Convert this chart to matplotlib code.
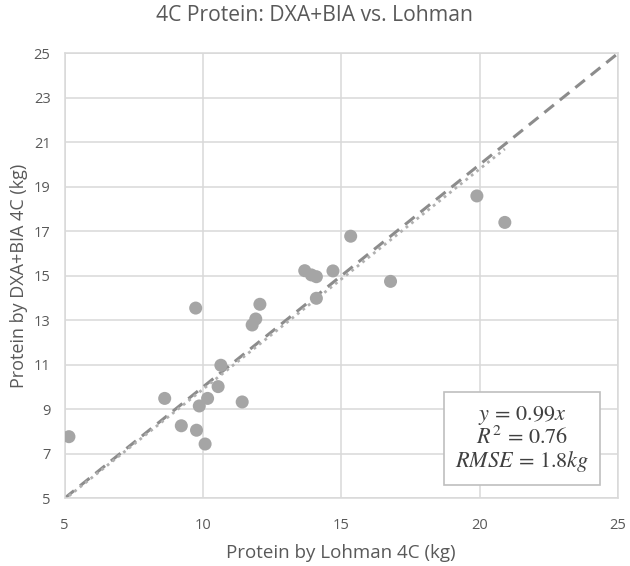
import numpy as np
import matplotlib.pyplot as plt

# Datos (kg)
lohman = [5.16, 9.74, 12.06, 11.91, 11.78, 14.10, 10.65, 10.55, 8.62, 10.17, 9.87, 11.42,
          9.22, 9.77, 10.08, 19.90, 20.91, 15.34, 16.78, 13.68, 13.92, 14.10, 14.70]
dxa_bia = [7.77, 13.55, 13.72, 13.06, 12.79, 13.99, 10.98, 10.02, 9.49, 9.49, 9.15, 9.33,
           8.26, 8.06, 7.44, 18.59, 17.40, 16.78, 14.75, 15.23, 15.04, 14.96, 15.22]
pendiente = 0.99
x_ticks = [5, 10, 15, 20, 25]
y_ticks = [5, 7, 9, 11, 13, 15, 17, 19, 21, 23, 25]

plt.rcParams['font.family'] = ['Open Sans', 'DejaVu Sans']
plt.rcParams['mathtext.fontset'] = 'stix'

texto = '#595959'
fig = plt.figure(figsize=(6.3, 5.66), dpi=100)
ax = fig.add_axes([0.1024, 0.1196, 0.8786, 0.7862])

# linea identidad y = x
ax.plot([5, 25], [5, 25], color='#8c8c8c', lw=2.2, ls=(0, (4, 2.5)), zorder=2)
# linea de tendencia y = 0.99x en el rango de los datos
xt = np.array([min(lohman), max(lohman)])
ax.plot(xt, pendiente * xt, color='#b0b0b0', lw=2.0, ls=(0, (1, 1.5)), zorder=2)

ax.scatter(lohman, dxa_bia, s=88, color='#a5a5a5', edgecolors='none', zorder=3)

ax.set_xlim(5, 25)
ax.set_ylim(5, 25)
ax.set_xticks(x_ticks)
ax.set_yticks(y_ticks)
ax.grid(True, color='#d9d9d9', lw=1.1, zorder=0)
for s in ax.spines.values():
    s.set_color('#d9d9d9')
    s.set_linewidth(1.1)
ax.tick_params(axis='x', length=0, colors=texto, labelsize=10.5, pad=14)
ax.tick_params(axis='y', length=0, colors=texto, labelsize=10.5, pad=10)

ax.set_xlabel('Protein by Lohman 4C (kg)', color=texto, fontsize=13.5, labelpad=8)
ax.set_ylabel('Protein by DXA+BIA 4C (kg)', color=texto, fontsize=13, labelpad=4)
fig.text(0.5, 0.972, '4C Protein: DXA+BIA vs. Lohman', color=texto, fontsize=15.2,
         ha='center', va='center')

ecuacion = r'$y\,=\,0.99x$' + '\n' + r'$R^2\,=\,0.76$' + '\n' + r'$RMSE\,=\,1.8kg$'
ax.text(0.8266, 0.134, ecuacion, transform=ax.transAxes,
        ha='center', va='center', fontsize=16, color='#404040', linespacing=1.0,
        bbox=dict(boxstyle='square,pad=0.5', fc='white', ec='#bfbfbf', lw=1.2), zorder=5)

fig.savefig('out.png', dpi=100)
